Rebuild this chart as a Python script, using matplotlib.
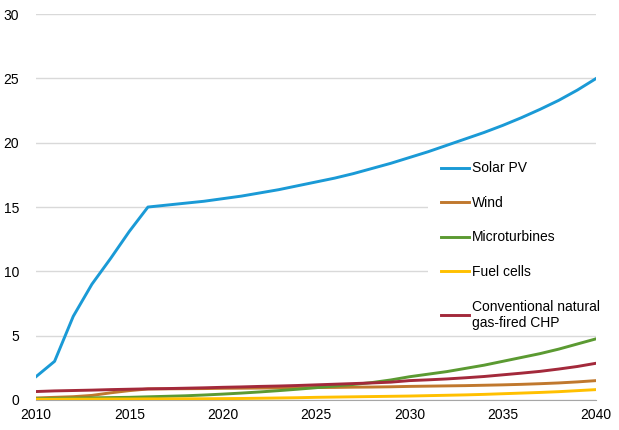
import matplotlib
matplotlib.use("Agg")
import matplotlib.pyplot as plt
from matplotlib.patches import Rectangle
from matplotlib.transforms import blended_transform_factory

plt.rcParams['font.family'] = ['Liberation Sans', 'DejaVu Sans']

years = list(range(2010, 2041))
solar_pv = [1.8, 3.0, 6.5, 9.0, 11.0, 13.1, 15.0, 15.15, 15.3, 15.45, 15.65,
            15.85, 16.1, 16.35, 16.65, 16.95, 17.25, 17.6, 18.0, 18.4, 18.85,
            19.3, 19.8, 20.3, 20.8, 21.35, 21.95, 22.6, 23.3, 24.1, 25.0]
wind = [0.15, 0.2, 0.25, 0.35, 0.55, 0.72, 0.85, 0.86, 0.87, 0.88, 0.9,
        0.91, 0.92, 0.93, 0.94, 0.96, 0.97, 0.99, 1.0, 1.02, 1.05,
        1.07, 1.09, 1.11, 1.14, 1.17, 1.21, 1.26, 1.32, 1.4, 1.5]
microturbines = [0.1, 0.12, 0.14, 0.16, 0.18, 0.2, 0.24, 0.28, 0.32, 0.38, 0.45,
                 0.53, 0.62, 0.72, 0.83, 0.95, 1.08, 1.2, 1.35, 1.55, 1.8,
                 2.0, 2.2, 2.45, 2.7, 3.0, 3.3, 3.6, 3.95, 4.35, 4.75]
fuel_cells = [0.05, 0.05, 0.06, 0.06, 0.07, 0.07, 0.08, 0.08, 0.09, 0.09, 0.1,
              0.11, 0.13, 0.15, 0.17, 0.2, 0.22, 0.24, 0.26, 0.28, 0.3,
              0.33, 0.36, 0.39, 0.43, 0.48, 0.53, 0.58, 0.64, 0.72, 0.8]
chp = [0.65, 0.7, 0.73, 0.76, 0.8, 0.83, 0.86, 0.88, 0.91, 0.94, 0.98,
       1.01, 1.05, 1.08, 1.12, 1.17, 1.22, 1.27, 1.32, 1.38, 1.5,
       1.56, 1.63, 1.72, 1.82, 1.95, 2.08, 2.22, 2.4, 2.6, 2.85]

series = [
    ("Solar PV", solar_pv, "#1a9ad6"),
    ("Wind", wind, "#c0782e"),
    ("Microturbines", microturbines, "#5b9a32"),
    ("Fuel cells", fuel_cells, "#ffc000"),
    ("Conventional natural\ngas-fired CHP", chp, "#a3293b"),
]

fig = plt.figure(figsize=(6.19, 4.30), dpi=100)
ax = fig.add_axes([0.058, 0.07, 0.905, 0.897])

for label, vals, color in series:
    ax.plot(years, vals, color=color, lw=2.1, label=label, zorder=3)

ax.set_xlim(2010, 2040)
ax.set_ylim(0, 30)
ax.set_xticks(range(2010, 2041, 5))
ax.set_yticks(range(0, 31, 5))
ax.grid(axis='y', color='#d9d9d9', lw=1)
ax.set_axisbelow(True)
for s in ['top', 'right', 'left']:
    ax.spines[s].set_visible(False)
ax.spines['bottom'].set_color('#a6a6a6')
ax.tick_params(axis='both', length=0, labelsize=10, colors='black')
ax.tick_params(axis='x', pad=6)
ax.tick_params(axis='y', pad=12)

# white area behind legend hiding gridlines
trans = blended_transform_factory(ax.transAxes, ax.transData)
ax.add_patch(Rectangle((0.70, 6.0), 0.35, 12.5, transform=trans,
                       facecolor='white', edgecolor='none', zorder=1,
                       clip_on=False))

leg = ax.legend(loc='upper left', bbox_to_anchor=(0.696, 0.658), frameon=False,
                fontsize=10, handlelength=2.0, handletextpad=0.2,
                labelspacing=1.48, borderpad=0.6)

fig.savefig("out.png", dpi=100)
